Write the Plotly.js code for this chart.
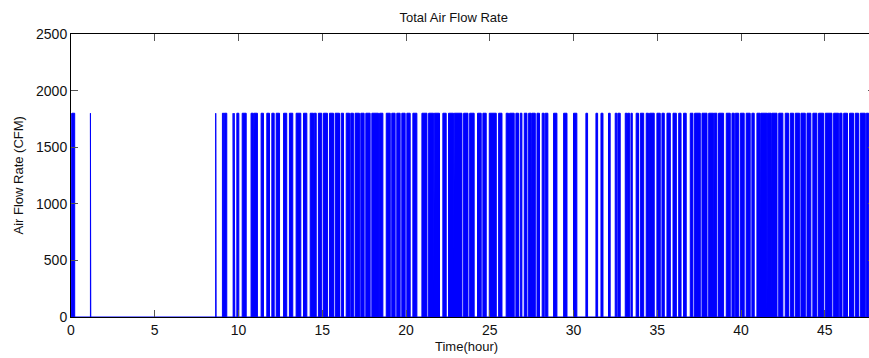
<!DOCTYPE html>
<html>
<head>
<meta charset="utf-8">
<script src="https://cdn.plot.ly/plotly-3.0.1.min.js"></script>
<style>
html,body{margin:0;padding:0;overflow:hidden;background:#fff;}
#chart{width:876px;height:358px;}
</style>
</head>
<body>
<div id="chart"></div>
<script>
// Fan ON intervals (hours); flow is ONLEVEL while on, 0 otherwise
const onLevel = 1800;
const onStart = [0.00,0.06,1.16,8.64,9.04,9.15,9.68,9.74,9.90,10.22,10.75,10.93,11.35,11.69,11.99,12.25,12.69,13.04,13.44,13.88,14.28,14.52,14.77,15.07,15.43,15.77,16.13,16.43,16.70,16.96,17.30,17.60,17.96,18.42,18.82,19.15,19.45,19.75,20.05,20.41,20.95,21.35,21.69,22.20,22.54,22.88,23.44,23.80,24.27,24.59,24.97,25.53,25.98,26.18,26.56,26.82,27.06,27.32,27.52,27.82,28.13,28.31,28.81,29.41,30.00,30.74,31.34,31.64,32.09,32.49,32.65,33.09,33.23,33.43,33.74,33.99,34.34,34.54,34.98,35.28,35.58,35.94,36.28,36.57,36.97,37.23,37.67,38.07,38.40,38.66,39.12,39.46,39.66,39.96,40.31,40.65,40.95,41.19,41.58,41.84,42.25,42.64,42.94,43.24,43.58,43.94,44.29,44.63,45.03,45.53,45.89,46.13,46.48,46.82,47.12,47.48,47.70];
const onEnd   = [0.02,0.22,1.18,8.66,9.12,9.30,9.72,9.78,10.02,10.46,10.89,11.13,11.49,11.85,12.13,12.45,12.88,13.24,13.72,14.08,14.48,14.64,14.97,15.31,15.67,16.03,16.27,16.63,16.86,17.22,17.50,17.86,18.36,18.62,19.06,19.35,19.65,19.95,20.25,20.65,21.25,21.65,22.00,22.40,22.84,23.34,23.70,24.07,24.49,24.79,25.39,25.73,26.12,26.46,26.72,26.92,27.22,27.48,27.72,27.97,28.25,28.47,29.01,29.61,30.20,30.84,31.44,31.76,32.19,32.59,32.79,33.19,33.35,33.51,33.88,34.19,34.48,34.82,35.18,35.42,35.78,36.14,36.42,36.73,37.13,37.57,37.97,38.37,38.56,38.96,39.36,39.60,39.86,40.19,40.55,40.79,41.15,41.55,41.80,42.15,42.50,42.84,43.14,43.50,43.84,44.17,44.53,44.93,45.43,45.83,46.03,46.36,46.72,47.02,47.42,47.62,47.80];
const xTicks = [0,5,10,15,20,25,30,35,40,45];
const yTicks = [0,500,1000,1500,2000,2500];

// build the step signal from the intervals
const xs = [0], ys = [0];
for (let i = 0; i < onStart.length; i++) {
  xs.push(onStart[i], onStart[i], onEnd[i], onEnd[i]);
  ys.push(0, onLevel, onLevel, 0);
}
xs.push(48); ys.push(0);

const font = {family: '"Liberation Sans", Arial, sans-serif', color: '#111'};

const trace = {
  x: xs, y: ys, type: 'scatter', mode: 'lines',
  line: {color: '#0000ff', width: 1},
  fill: 'tozeroy', fillcolor: '#0000ff',
  hoverinfo: 'skip'
};

const axisCommon = {
  showgrid: false, zeroline: false, showline: true, linecolor: '#000', linewidth: 1,
  ticks: 'inside', ticklen: 7, tickcolor: '#555', tickwidth: 1, mirror: 'ticks',
  tickfont: Object.assign({size: 14}, font)
};

const layout = {
  width: 876, height: 358,
  margin: {l: 71, r: 1, t: 34, b: 41},
  paper_bgcolor: '#fff', plot_bgcolor: '#fff',
  showlegend: false,
  title: {text: 'Total Air Flow Rate', font: Object.assign({size: 13}, font),
          xref: 'paper', x: 0.476, xanchor: 'center',
          yref: 'container', y: 1 - 17/358, yanchor: 'middle'},
  xaxis: Object.assign({}, axisCommon, {range: [0, 48], tickvals: xTicks, ticktext: xTicks.map(String)}),
  yaxis: Object.assign({}, axisCommon, {range: [0, 2500], tickvals: yTicks, ticktext: yTicks.map(String)}),
  annotations: [
    {text: 'Time(hour)', xref: 'paper', yref: 'paper', x: 0.4925, y: -0.1025,
     xanchor: 'center', yanchor: 'middle', showarrow: false, font: Object.assign({size: 13}, font)},
    {text: 'Air Flow Rate (CFM)', xref: 'paper', yref: 'paper', x: -0.0659, y: 0.5,
     xanchor: 'center', yanchor: 'middle', textangle: -90, showarrow: false, font: Object.assign({size: 13}, font)}
  ]
};

Plotly.newPlot('chart', [trace], layout, {staticPlot: true, displayModeBar: false});
</script>
</body>
</html>
